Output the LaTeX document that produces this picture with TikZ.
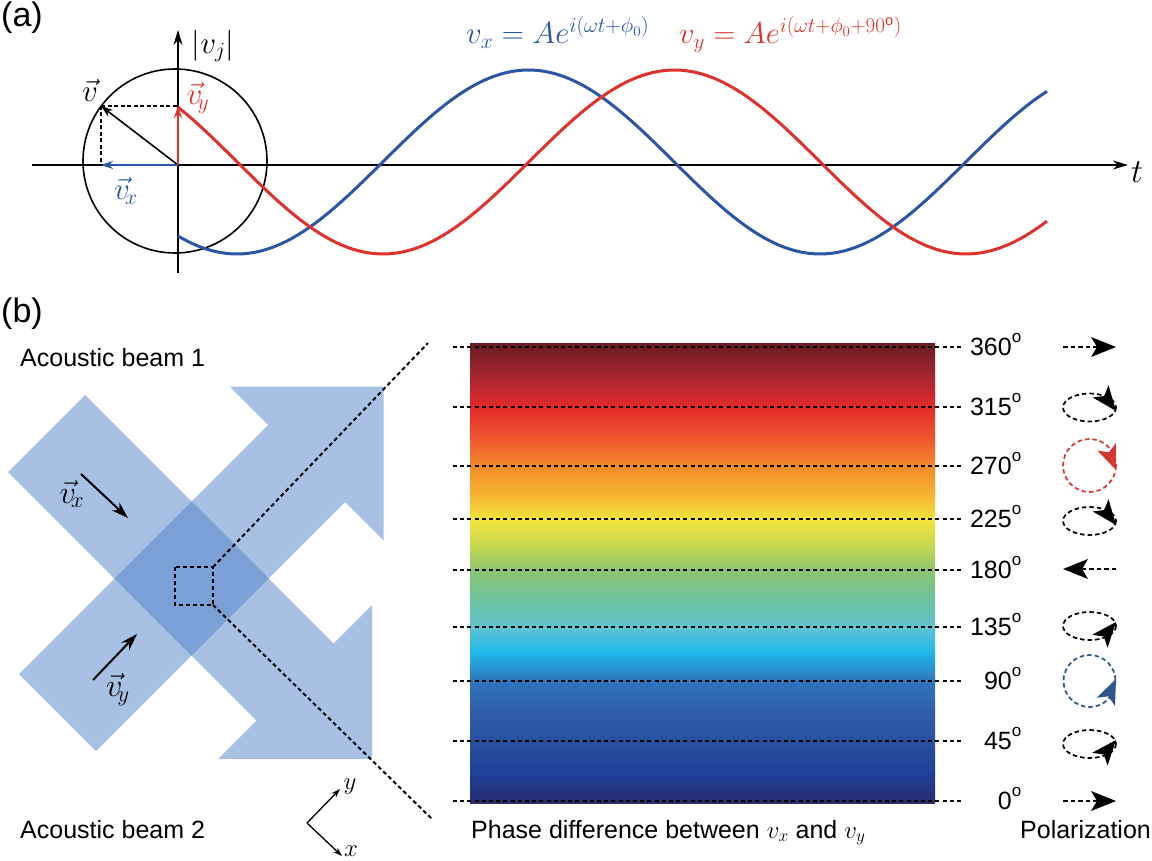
\documentclass[tikz,border=0pt]{standalone}
\usepackage{fontspec}
\setmainfont{Liberation Sans}
\usetikzlibrary{arrows.meta}
\DeclareMathSizes{24.88}{24.88}{17.28}{12}
\definecolor{cblue}{RGB}{42,86,165}
\definecolor{cred}{RGB}{224,50,45}
\definecolor{beamc}{RGB}{80,130,200}
\definecolor{pblue}{RGB}{45,85,140}
\definecolor{pred}{RGB}{215,55,50}
\definecolor{cbA}{RGB}{106,28,34}
\definecolor{cbB}{RGB}{165,37,48}
\definecolor{cbC}{RGB}{228,42,42}
\definecolor{cbD}{RGB}{238,82,48}
\definecolor{cbE}{RGB}{242,138,40}
\definecolor{cbF}{RGB}{245,181,50}
\definecolor{cbG}{RGB}{242,228,58}
\definecolor{cbH}{RGB}{200,216,80}
\definecolor{cbI}{RGB}{140,196,112}
\definecolor{cbJ}{RGB}{108,195,160}
\definecolor{cbK}{RGB}{95,195,211}
\definecolor{cbL}{RGB}{30,184,234}
\definecolor{cbM}{RGB}{47,116,188}
\definecolor{cbN}{RGB}{47,94,174}
\definecolor{cbO}{RGB}{40,80,160}
\definecolor{cbP}{RGB}{31,62,152}
\definecolor{cbQ}{RGB}{42,44,110}
\newcommand\polhead[3]{\fill[#3, shift={#1}, rotate=#2] (0,0) -- (-25,-10) -- (-19,0) -- (-25,10) -- cycle;}
\newcommand\cbseg[4]{\shade[top color=#3, bottom color=#4] (470,#1) rectangle (935,#2);}
\newcommand\degsym{\raisebox{0.5em}{\fontsize{17}{17}\selectfont o}}
\newcommand\mfont{\fontsize{24.88}{30}\selectfont}
\tikzset{
  axisline/.style={line width=1.6pt, -{Stealth[length=15pt,width=9pt]}},
  wave/.style={line width=3pt},
  vecarrow/.style={line width=2pt, -{Stealth[length=12pt,width=8pt]}},
  helper/.style={line width=1.5pt, dash pattern=on 4pt off 2.5pt},
  beam/.style={fill=beamc, fill opacity=0.5},
  beamarrow/.style={line width=2pt, -{Stealth[length=17pt,width=11pt]}},
  sqdash/.style={line width=2pt, dash pattern=on 4pt off 3pt},
  smallarrow/.style={line width=1.3pt, -{Stealth[length=9pt,width=6pt]}},
  tickline/.style={line width=1.8pt, dash pattern=on 4pt off 3.2pt},
  poldash/.style={line width=1.7pt, dash pattern=on 4.5pt off 3pt},
  lbl/.style={font=\fontsize{25}{30}\selectfont, inner sep=0pt},
  panel/.style={font=\fontsize{34}{38}\selectfont, inner sep=0pt},
  deg/.style={font=\fontsize{25}{30}\selectfont, inner sep=0pt, anchor=base east},
  mth/.style={font=\mfont, inner sep=0pt},
}
\begin{document}
\begin{tikzpicture}[x=1pt,y=-1pt]
\useasboundingbox (0,0) rectangle (1152,861);
\fill[white] (0,0) rectangle (1152,861);

% ---------------- (a) ----------------
\node[panel, anchor=base west] (pa) at (1,27) {(a)};
\coordinate (O) at (178,165);
\coordinate (tStart) at (32,165);
\coordinate (tEnd) at (1128,165);
\coordinate (vBot) at (178,273);
\coordinate (vTop) at (178,30);
\draw[axisline] (tStart) -- (tEnd);
\draw[axisline] (vBot) -- (vTop);
\draw[line width=1.6pt] (175,161) circle [radius=92];
\draw[cblue, wave] plot[domain=178:1047, samples=160] (\x,{162+92*cos(0.6175*(\x-237))});
\draw[cred, wave] plot[domain=178:1047, samples=160] (\x,{162+92*cos(0.6175*(\x-383))});
\coordinate (V) at (101,106);
\coordinate (Vy) at (178,106);
\coordinate (Vx) at (101,165);
\draw[helper] (V) -- (Vy);
\draw[helper] (V) -- (Vx);
\draw[vecarrow, line width=1.6pt] (O) -- (V);
\draw[vecarrow, cred] (O) -- (Vy);
\draw[vecarrow, cblue] (O) -- (Vx);
\node[mth] (lv) at (90,90) {\scalebox{1.25}{$\vec{v}$}};
\node[mth, text=cred] (lvy) at (198,98) {\scalebox{1.25}{$\vec{v}_{\!y}$}};
\node[mth, text=cblue] (lvx) at (126,191) {\scalebox{1.25}{$\vec{v}_{\!x}$}};
\node[mth] (lvj) at (213,46) {\scalebox{1.25}{$|v_j|$}};
\node[mth] (lt) at (1137,172) {\scalebox{1.35}{$t$}};
\node[mth, text=cblue, anchor=base west] (fx) at (466,44) {\scalebox{1.24}{$v_x = Ae^{i(\omega t+\phi_0)}$}};
\node[mth, text=cred, anchor=base west] (fy) at (679,44) {\scalebox{1.22}{$v_y = Ae^{i(\omega t+\phi_0+90^{\mathrm{o}})}$}};

% ---------------- (b) ----------------
\node[panel, anchor=base west] (pb) at (1,323) {(b)};
\node[lbl, anchor=base west] (b1) at (20,366) {Acoustic beam 1};
\node[lbl, anchor=base west] (b2) at (20,838) {Acoustic beam 2};

\fill[beam] (85,395) -- (333.5,643.5) -- (372,605) -- (372,759) -- (218,759) -- (256.5,720.5) -- (8,472) -- cycle;
\fill[beam] (19,674) -- (268,425) -- (229.5,386.5) -- (383.5,386.5) -- (383.5,540.5) -- (345,502) -- (96,751) -- cycle;

\coordinate (ax1) at (81,474); \coordinate (ax2) at (128,518);
\coordinate (ay1) at (93,680); \coordinate (ay2) at (137,634);
\draw[beamarrow] (ax1) -- (ax2);
\draw[beamarrow] (ay1) -- (ay2);
\node[mth] (bvx) at (72,494) {\scalebox{1.3}{$\vec{v}_{\!x}$}};
\node[mth] (bvy) at (118,690) {\scalebox{1.3}{$\vec{v}_{\!y}$}};

\coordinate (sqA) at (175,567);
\coordinate (sqB) at (213,605);
\coordinate (sqTR) at (213,567);
\coordinate (zTop) at (428,343);
\coordinate (zBot) at (433,820);
\draw[sqdash] (sqA) rectangle (sqB);
\draw[sqdash] (sqTR) -- (zTop);
\draw[sqdash] (sqB) -- (zBot);

\coordinate (co) at (307,823);
\coordinate (cy) at (340,789);
\coordinate (cx) at (342,856);
\draw[smallarrow] (co) -- (cy);
\draw[smallarrow] (co) -- (cx);
\node[mth] (ly) at (350,787) {$y$};
\node[mth] (lx) at (351,851) {$x$};

% colour bar
\cbseg{343.5}{375.5}{cbA}{cbB}
\cbseg{375}{407.5}{cbB}{cbC}
\cbseg{407}{435.5}{cbC}{cbD}
\cbseg{435}{466.5}{cbD}{cbE}
\cbseg{466}{495.5}{cbE}{cbF}
\cbseg{495}{519.5}{cbF}{cbG}
\cbseg{519}{545.5}{cbG}{cbH}
\cbseg{545}{570.5}{cbH}{cbI}
\cbseg{570}{600.5}{cbI}{cbJ}
\cbseg{600}{627.5}{cbJ}{cbK}
\cbseg{627}{652.5}{cbK}{cbL}
\cbseg{652}{681.5}{cbL}{cbM}
\cbseg{681}{711.5}{cbM}{cbN}
\cbseg{711}{741.5}{cbN}{cbO}
\cbseg{741}{775.5}{cbO}{cbP}
\cbseg{775}{803}{cbP}{cbQ}

\foreach \yy/\tt in {347/360,407/315,466/270,519/225,570/180,627/135,681/90,741/45,801/0}{
  \draw[tickline] (453,\yy) -- (964,\yy);
  \node[deg] at (1012,\yy+8) {\tt\rlap{\degsym}};
}
\node[lbl, anchor=base west] (phl) at (471,838) {Phase difference between {\mfont$v_x$} and {\mfont$v_y$}};
\node[lbl, anchor=base west] (pol) at (1020,838) {Polarization};

% polarization icons
\draw[poldash] (1063,347) -- (1097,347);
\polhead{(1116,347)}{0}{black}
\draw[poldash] (1089.5,407.5) ellipse [x radius=26.5, y radius=14];
\polhead{(1116,411)}{-52}{black}
\draw[poldash, pred] (1089.5,465.5) circle [radius=26.5];
\polhead{(1116,470)}{-68}{pred}
\draw[poldash] (1089.5,521) ellipse [x radius=26.5, y radius=14];
\polhead{(1116,525)}{-52}{black}
\draw[poldash] (1116,569) -- (1082,569);
\polhead{(1063,569)}{180}{black}
\draw[poldash] (1089.5,626) ellipse [x radius=26.5, y radius=14];
\polhead{(1116,622)}{50}{black}
\draw[poldash, pblue] (1089.5,681) circle [radius=26];
\polhead{(1116,679)}{66}{pblue}
\draw[poldash] (1089.5,744) ellipse [x radius=26.5, y radius=14];
\polhead{(1116,740)}{50}{black}
\draw[poldash] (1063,801) -- (1097,801);
\polhead{(1116,801)}{0}{black}
\end{tikzpicture}
\end{document}
